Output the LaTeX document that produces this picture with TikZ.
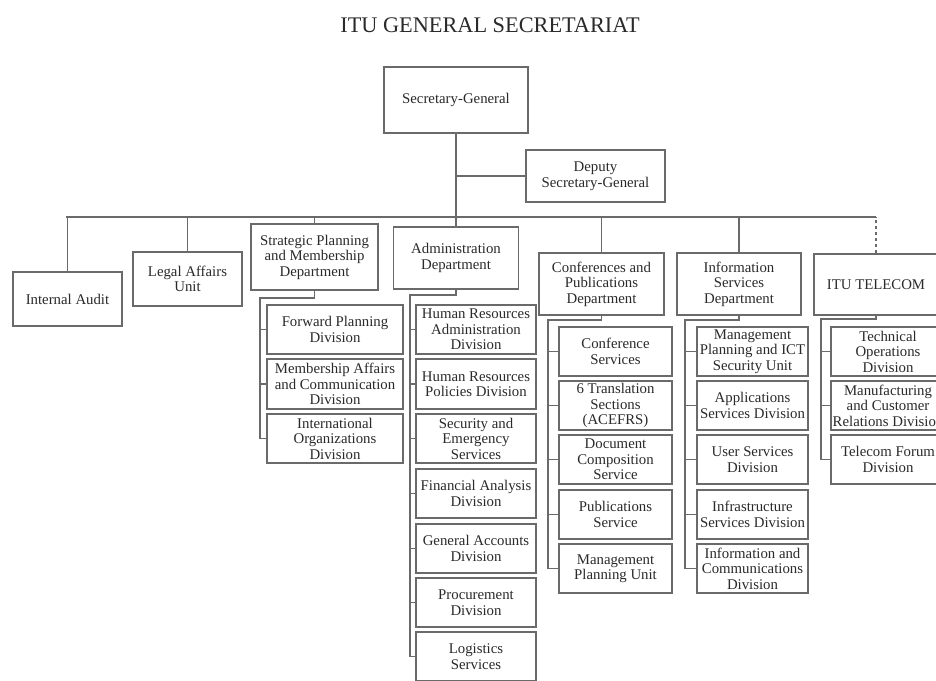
\documentclass[tikz,border=0pt]{standalone}
\usepackage{fontspec}
\setmainfont{Liberation Serif}
\definecolor{linegray}{HTML}{6A6A6A}
\definecolor{txtgray}{HTML}{2A2A2A}
\begin{document}
\begin{tikzpicture}[x=1pt,y=-1pt,
  box/.style={draw=linegray, line width=1.3pt, fill=white, align=center, inner sep=0pt,
    text=txtgray, font=\fontsize{14.8}{15.5}\selectfont},
  conn/.style={draw=linegray, line width=1.3pt},
  dconn/.style={draw=linegray, line width=1.3pt, dash pattern=on 3pt off 3pt}]
\useasboundingbox (0,0) rectangle (936,680);
\clip (0,0) rectangle (936,680);
\fill[white] (0,0) rectangle (936,680);

\node[text=txtgray, font=\fontsize{22.3}{24}\selectfont, anchor=base] (title) at (490,32) {ITU GENERAL SECRETARIAT};

% top level
\node[box, minimum width=144pt, minimum height=66pt] (sg) at (456,100) {Secretary-General};
\node[box, minimum width=139pt, minimum height=52pt] (dep) at (595.5,176) {Deputy\\Secretary-General};

\node[box, minimum width=109pt, minimum height=54pt] (ia) at (67.5,299) {Internal Audit};
\node[box, minimum width=109pt, minimum height=54pt] (legal) at (187.5,279) {Legal Affairs\\Unit};
\node[box, minimum width=127pt, minimum height=66pt] (sp) at (314.5,257) {Strategic Planning\\and Membership\\Department};
\node[box, minimum width=125pt, minimum height=62pt] (adm) at (456,258) {Administration\\Department};
\node[box, minimum width=125pt, minimum height=62pt] (conf) at (601.5,284) {Conferences and\\Publications\\Department};
\node[box, minimum width=124pt, minimum height=62pt] (info) at (739,284) {Information\\Services\\Department};
\node[box, minimum width=124pt, minimum height=61pt] (tel) at (876,284.5) {ITU TELECOM};

% bus
\coordinate (busL) at (66,217);
\coordinate (busR) at (876,217);
\draw[conn] (sg.south) -- (adm.north);
\draw[conn] (dep.west) -- (dep.west -| sg.south);
\draw[conn] (busL) -- (busR);
\draw[conn] (ia.north) -- (ia.north |- busL);
\draw[conn] (legal.north) -- (legal.north |- busL);
\draw[conn] (sp.north) -- (sp.north |- busL);
\draw[conn] (conf.north) -- (conf.north |- busL);
\draw[conn] (info.north) -- (info.north |- busL);
\draw[dconn] (tel.north) -- (tel.north |- busR);

% Strategic planning subs
\node[box, minimum width=136pt, minimum height=49pt] (sp1) at (335,329.5) {Forward Planning\\Division};
\node[box, minimum width=136pt, minimum height=50pt] (sp2) at (335,384) {Membership Affairs\\and Communication\\Division};
\node[box, minimum width=136pt, minimum height=49pt] (sp3) at (335,438.5) {International\\Organizations\\Division};
\coordinate (spk) at (260,298);
\draw[conn] (sp.south) |- (spk) -- (spk |- sp3.west) -- (sp3.west);
\draw[conn] (spk |- sp1.west) -- (sp1.west);
\draw[conn] (spk |- sp2.west) -- (sp2.west);

% Administration subs
\node[box, minimum width=120pt, minimum height=49pt] (ad1) at (476,329.5) {Human Resources\\Administration\\Division};
\node[box, minimum width=120pt, minimum height=50pt] (ad2) at (476,384) {Human Resources\\Policies Division};
\node[box, minimum width=120pt, minimum height=49pt] (ad3) at (476,438.5) {Security and\\Emergency\\Services};
\node[box, minimum width=120pt, minimum height=49pt] (ad4) at (476,493.5) {Financial Analysis\\Division};
\node[box, minimum width=120pt, minimum height=49pt] (ad5) at (476,548.5) {General Accounts\\Division};
\node[box, minimum width=120pt, minimum height=49pt] (ad6) at (476,602.5) {Procurement\\Division};
\node[box, minimum width=120pt, minimum height=49pt] (ad7) at (476,656.5) {Logistics\\Services};
\coordinate (adk) at (410,295);
\draw[conn] (adm.south) |- (adk) -- (adk |- ad7.west) -- (ad7.west);
\foreach \n in {ad1,ad2,ad3,ad4,ad5,ad6} \draw[conn] (adk |- \n.west) -- (\n.west);

% Conferences subs
\node[box, minimum width=113pt, minimum height=49pt] (cf1) at (615.5,351.5) {Conference\\Services};
\node[box, minimum width=113pt, minimum height=49pt] (cf2) at (615.5,405.5) {6 Translation\\Sections\\(ACEFRS)};
\node[box, minimum width=113pt, minimum height=49pt] (cf3) at (615.5,459.5) {Document\\Composition\\Service};
\node[box, minimum width=113pt, minimum height=49pt] (cf4) at (615.5,514.5) {Publications\\Service};
\node[box, minimum width=113pt, minimum height=49pt] (cf5) at (615.5,568.5) {Management\\Planning Unit};
\coordinate (cfk) at (548,320);
\draw[conn] (conf.south) |- (cfk) -- (cfk |- cf5.west) -- (cf5.west);
\foreach \n in {cf1,cf2,cf3,cf4} \draw[conn] (cfk |- \n.west) -- (\n.west);

% Information services subs
\node[box, minimum width=111pt, minimum height=49pt] (is1) at (752.5,351.5) {Management\\Planning and ICT\\Security Unit};
\node[box, minimum width=111pt, minimum height=49pt] (is2) at (752.5,405.5) {Applications\\Services Division};
\node[box, minimum width=111pt, minimum height=49pt] (is3) at (752.5,459.5) {User Services\\Division};
\node[box, minimum width=111pt, minimum height=49pt] (is4) at (752.5,514.5) {Infrastructure\\Services Division};
\node[box, minimum width=111pt, minimum height=49pt] (is5) at (752.5,568.5) {Information and\\Communications\\Division};
\coordinate (isk) at (685,320);
\draw[conn] (info.south) |- (isk) -- (isk |- is5.west) -- (is5.west);
\foreach \n in {is1,is2,is3,is4} \draw[conn] (isk |- \n.west) -- (\n.west);

% Telecom subs
\node[box, minimum width=114pt, minimum height=49pt] (tl1) at (888,351.5) {Technical\\Operations\\Division};
\node[box, minimum width=114pt, minimum height=49pt] (tl2) at (888,405.5) {Manufacturing\\and Customer\\Relations Division};
\node[box, minimum width=114pt, minimum height=49pt] (tl3) at (888,459.5) {Telecom Forum\\Division};
\coordinate (tlk) at (821,319);
\draw[conn] (tel.south) |- (tlk) -- (tlk |- tl3.west) -- (tl3.west);
\foreach \n in {tl1,tl2} \draw[conn] (tlk |- \n.west) -- (\n.west);
\end{tikzpicture}
\end{document}
